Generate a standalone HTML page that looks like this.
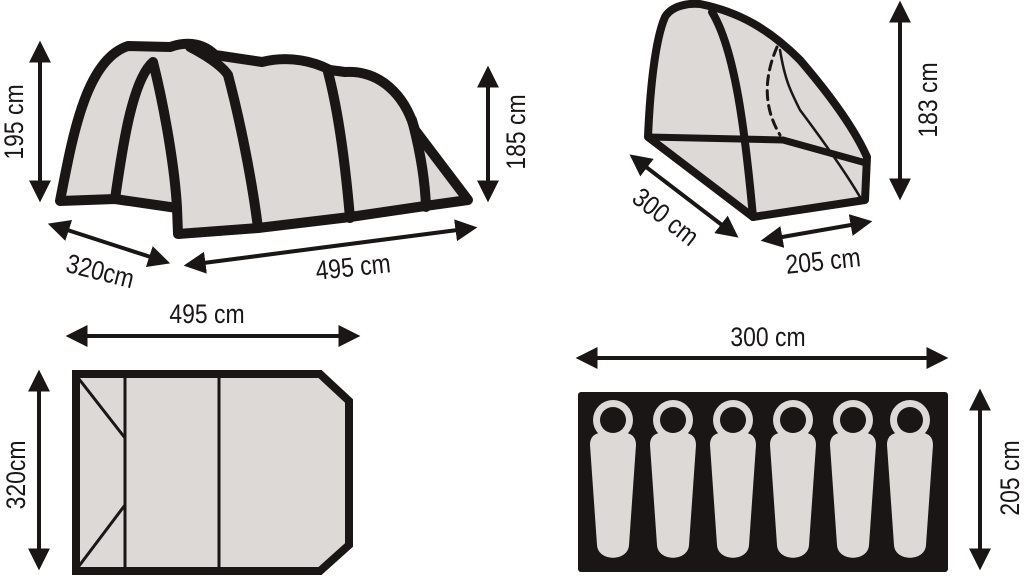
<!DOCTYPE html>
<html><head><meta charset="utf-8"><style>
html,body{margin:0;padding:0;background:#fff;}
svg{display:block;}
text{font-family:"Liberation Sans",sans-serif;font-size:27px;fill:#1a1616;}
</style></head><body>
<svg width="1024" height="578" viewBox="0 0 1024 578" xmlns="http://www.w3.org/2000/svg">
<defs>
<marker id="a" viewBox="0 0 10 10" refX="8" refY="5" markerWidth="5.5" markerHeight="5.5" orient="auto-start-reverse" markerUnits="strokeWidth">
<path d="M0,0 L10,5 L0,10 Z" fill="#1a1616"/></marker>
<g id="bag">
<circle cx="0" cy="420" r="20"/>
<path d="M-23,445 C-23,432 -12,432 0,432 C12,432 23,432 23,445 L16,545 C15,562 -15,562 -16,545 Z"/>
</g>
</defs>
<g stroke="#1a1616" stroke-width="4" fill="none" marker-start="url(#a)" marker-end="url(#a)">
<line x1="40" y1="45" x2="40" y2="198"/>
<line x1="488" y1="70" x2="488" y2="198"/>
<line x1="52" y1="225" x2="166" y2="262"/>
<line x1="188" y1="265" x2="473" y2="228"/>
<line x1="633" y1="157" x2="735" y2="235"/>
<line x1="765" y1="240" x2="868" y2="222"/>
<line x1="900" y1="5" x2="900" y2="196"/>
<line x1="70" y1="336" x2="356" y2="336"/>
<line x1="39" y1="374" x2="39" y2="566"/>
<line x1="580" y1="358" x2="944" y2="358"/>
<line x1="980" y1="393" x2="980" y2="566"/>
</g>
<g stroke="#1a1616" stroke-width="10" stroke-linejoin="round" stroke-linecap="round" fill="#dcd9d6">
<path d="M60,201 C72,140 85,60 128,46 L170,47 C190,40 205,45 215,55 L262,62 C290,55 315,62 330,70 L345,72 C380,70 405,95 415,130 L468,200 L425,206 L350,217 L258,228 L178,234 L177,208 L115,199 Z"/>
<path d="M115,199 C122,150 132,80 153,62 C165,110 175,170 177,208" fill="none"/>
<path d="M190,47 C215,60 225,70 228,75 C240,120 252,180 258,228" fill="none"/>
<path d="M328,72 C338,110 345,160 350,218" fill="none"/>
<path d="M412,120 C420,150 425,180 426,207" fill="none"/>
</g>
<g stroke="#1a1616" stroke-linejoin="round" stroke-linecap="round" fill="none">
<path d="M648,137 C650,90 655,40 665,17 C672,5 690,3 700,4 C740,12 770,30 800,60 C830,95 855,130 867,157 L865,200 L753,217 Z" fill="#dcd9d6" stroke-width="8"/>
<path d="M648,137 L783,140 L866,163" stroke-width="7"/>
<path d="M712,12 C735,50 745,130 753,217" stroke-width="8"/>
<path d="M780,50 C785,80 790,90 800,110 C830,150 850,180 860,197" stroke-width="2.5"/>
<path d="M777,47 C765,75 762,105 780,135" stroke-width="3" stroke-dasharray="9,6"/>
</g>
<path d="M76,374 L320,374 L349,401 L349,545 L320,571 L76,571 Z" fill="#dcd9d6" stroke="#1a1616" stroke-width="8" stroke-linejoin="miter"/>
<g stroke="#1a1616" stroke-width="3">
<line x1="125" y1="374" x2="125" y2="571"/>
<line x1="219" y1="374" x2="219" y2="571"/>
<line x1="79" y1="379" x2="125" y2="438"/>
<line x1="125" y1="505" x2="79" y2="566"/>
</g>
<rect x="578" y="392" width="370" height="180" rx="3" fill="#1a1616"/>
<g fill="#dcd9d6">
<use href="#bag" x="613"/><use href="#bag" x="673"/><use href="#bag" x="733"/>
<use href="#bag" x="793"/><use href="#bag" x="853"/><use href="#bag" x="910"/>
</g>
<g fill="#1a1616">
<circle cx="613" cy="420" r="13"/><circle cx="673" cy="420" r="13"/><circle cx="733" cy="420" r="13"/>
<circle cx="793" cy="420" r="13"/><circle cx="853" cy="420" r="13"/><circle cx="910" cy="420" r="13"/>
</g>
<text transform="translate(23,122) rotate(-90) scale(0.85,1)" text-anchor="middle">195 cm</text>
<text transform="translate(525,132) rotate(-90) scale(0.85,1)" text-anchor="middle">185 cm</text>
<text transform="translate(98,280) rotate(14) scale(0.85,1)" text-anchor="middle">320cm</text>
<text transform="translate(354,276) rotate(-6) scale(0.85,1)" text-anchor="middle">495 cm</text>
<text transform="translate(660,224) rotate(38) scale(0.85,1)" text-anchor="middle">300 cm</text>
<text transform="translate(824,270) rotate(-6) scale(0.85,1)" text-anchor="middle">205 cm</text>
<text transform="translate(937,100) rotate(-90) scale(0.85,1)" text-anchor="middle">183 cm</text>
<text transform="translate(207,323) scale(0.85,1)" text-anchor="middle">495 cm</text>
<text transform="translate(25,475) rotate(-90) scale(0.85,1)" text-anchor="middle">320cm</text>
<text transform="translate(768,346) scale(0.85,1)" text-anchor="middle">300 cm</text>
<text transform="translate(1019,478) rotate(-90) scale(0.85,1)" text-anchor="middle">205 cm</text>
</svg>
</body></html>
